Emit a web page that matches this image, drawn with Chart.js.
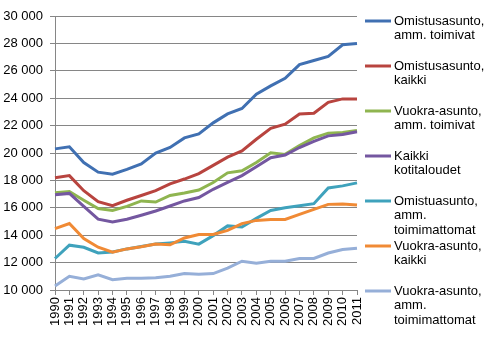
<!DOCTYPE html>
<html>
<head>
<meta charset="utf-8">
<script src="https://cdn.jsdelivr.net/npm/chart.js@4.4.1/dist/chart.umd.min.js"></script>
<style>
html,body{margin:0;padding:0;background:#fff;}
#wrap{width:497px;height:340px;position:relative;}
</style>
</head>
<body>
<div id="wrap"><canvas id="c" width="497" height="340"></canvas></div>
<script>
const years = ["1990","1991","1992","1993","1994","1995","1996","1997","1998","1999","2000","2001","2002","2003","2004","2005","2006","2007","2008","2009","2010","2011"];

const omistusToimivat = [20300,20450,19300,18600,18450,18800,19200,20000,20400,21100,21400,22200,22850,23250,24300,24900,25450,26450,26750,27050,27900,28000];
const omistusKaikki = [18200,18350,17250,16450,16150,16550,16900,17250,17750,18100,18500,19100,19700,20150,21000,21800,22100,22850,22900,23700,23950,23950];
const vuokraToimivat = [17100,17180,16550,15950,15800,16100,16500,16420,16900,17080,17300,17850,18550,18700,19300,20020,19900,20550,21100,21450,21500,21650];
const kaikkiKotitaloudet = [16950,17050,16100,15170,14970,15170,15460,15770,16130,16500,16750,17350,17850,18350,19000,19650,19850,20400,20850,21250,21350,21550];
const omistusToimimattomat = [12300,13270,13120,12700,12780,13000,13170,13350,13440,13550,13350,13970,14680,14600,15230,15800,16000,16150,16300,17450,17600,17820];
const vuokraKaikki = [14480,14850,13750,13120,12760,13000,13150,13350,13300,13800,14050,14050,14350,14850,15080,15150,15150,15520,15880,16250,16280,16200];
const vuokraToimimattomat = [10300,11000,10800,11100,10750,10850,10850,10900,11000,11200,11150,11200,11600,12100,11950,12100,12100,12300,12300,12700,12950,13050];

const yTicks = [10000,12000,14000,16000,18000,20000,22000,24000,26000,28000,30000];

const seriesLabels = [
  ["Omistusasunto,", "amm. toimivat"],
  ["Omistusasunto,", "kaikki"],
  ["Vuokra-asunto,", "amm. toimivat"],
  ["Kaikki", "kotitaloudet"],
  ["Omistuasunto,", "amm.", "toimimattomat"],
  ["Vuokra-asunto,", "kaikki"],
  ["Vuokra-asunto,", "amm.", "toimimattomat"]
];
const seriesData = [omistusToimivat, omistusKaikki, vuokraToimivat, kaikkiKotitaloudet, omistusToimimattomat, vuokraKaikki, vuokraToimimattomat];
const seriesColors = ["#4070B2","#B8443F","#8FB550","#7457A0","#3FA2BC","#F08A35","#96AFD8"];

const FONT = '"Liberation Sans", Arial, sans-serif';

const sideLegend = {
  id: 'sideLegend',
  afterDraw(chart) {
    const ctx = chart.ctx;
    const area = chart.chartArea;
    ctx.save();
    ctx.font = '13px ' + FONT;
    ctx.textBaseline = 'middle';
    ctx.textAlign = 'left';
    const x0 = area.right + 8;
    seriesLabels.forEach((lines, i) => {
      const y = area.top + 5 + i * 45;
      ctx.strokeStyle = seriesColors[i];
      ctx.lineWidth = 3;
      ctx.beginPath();
      ctx.moveTo(x0, y);
      ctx.lineTo(x0 + 26, y);
      ctx.stroke();
      ctx.fillStyle = '#000';
      lines.forEach((t, j) => ctx.fillText(t, x0 + 29, y + j * 14.5));
    });
    ctx.restore();
  }
};

new Chart(document.getElementById('c'), {
  type: 'line',
  data: {
    labels: years,
    datasets: seriesData.map((d, i) => ({
      label: seriesLabels[i].join(' '),
      data: d,
      borderColor: seriesColors[i],
      backgroundColor: seriesColors[i],
      borderWidth: 3,
      pointRadius: 0,
      tension: 0,
      fill: false,
      order: seriesData.length - i
    }))
  },
  options: {
    responsive: false,
    animation: false,
    layout: { padding: { top: 16, right: 140, left: 0, bottom: 0 } },
    plugins: { legend: { display: false }, tooltip: { enabled: false } },
    scales: {
      x: {
        offset: false,
        grid: { drawOnChartArea: false, drawTicks: true, tickLength: 5, color: '#868686' },
        border: { color: '#868686', width: 1 },
        ticks: { minRotation: 90, maxRotation: 90, autoSkip: false, color: '#000', font: { size: 13, family: FONT }, padding: 2 },
        afterFit(s) { s.height = 50; }
      },
      y: {
        min: 10000,
        max: 30000,
        afterBuildTicks(s) { s.ticks = yTicks.map(v => ({ value: v })); },
        grid: { color: '#868686', drawTicks: true, tickLength: 5 },
        border: { color: '#868686', width: 1 },
        ticks: {
          color: '#000',
          font: { size: 13, family: FONT },
          padding: 7,
          callback: v => String(v).replace(/\B(?=(\d{3})+(?!\d))/g, ' ')
        },
        afterFit(s) { s.width = 55; }
      }
    }
  },
  plugins: [sideLegend]
});
</script>
</body>
</html>
